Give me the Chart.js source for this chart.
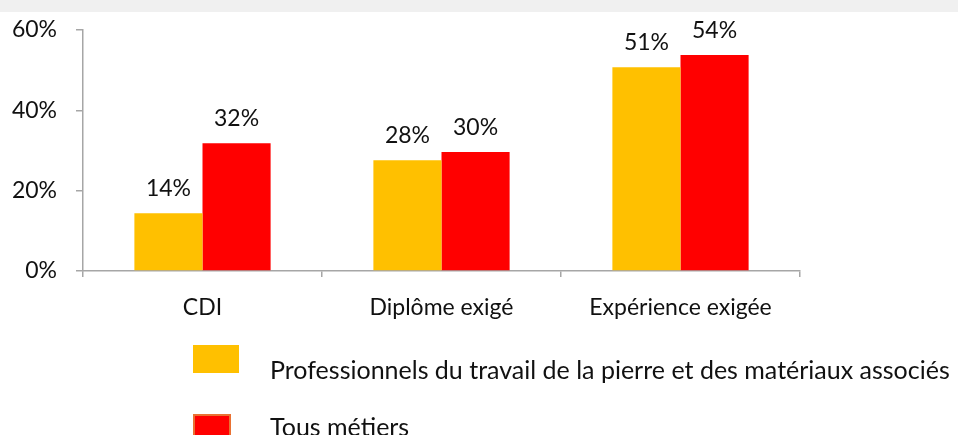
<!DOCTYPE html>
<html>
<head>
<meta charset="utf-8">
<script src="https://cdn.jsdelivr.net/npm/chart.js@4/dist/chart.umd.min.js"></script>
<style>
  html, body { margin: 0; padding: 0; background: #fff; }
  #wrap { position: relative; width: 958px; height: 435px; overflow: hidden; }
  #band { position: absolute; left: 0; top: 0; width: 958px; height: 12px; background: #f0f0f0; }
  #chart { position: absolute; left: 0; top: 0; }
  .legend-item { position: absolute; left: 193px; font-family: Lato, sans-serif; font-size: 25px; color: #111; white-space: nowrap; }
  .legend-item .swatch { position: absolute; left: 0; box-sizing: border-box; }
  .legend-item .txt { position: absolute; left: 77px; }
</style>
</head>
<body>
<div id="wrap">
  <div id="band"></div>
  <canvas id="chart" width="958" height="435"></canvas>
  <div id="legend"></div>
</div>
<script>
const categories = ['CDI', 'Diplôme exigé', 'Expérience exigée'];
const seriesNames = ['Professionnels du travail de la pierre et des matériaux associés', 'Tous métiers'];
const proValues = [14.4, 27.6, 50.7];
const allValues = [31.8, 29.6, 53.8];
const yTicks = [0, 20, 40, 60];
const colors = ['#FFC000', '#FF0000'];

const valueLabels = {
    id: 'valueLabels',
    afterDatasetsDraw(chart) {
        const c = chart.ctx;
        c.save();
        c.font = '23px Lato, sans-serif';
        c.fillStyle = '#111';
        c.textAlign = 'center';
        c.textBaseline = 'alphabetic';
        chart.data.datasets.forEach((ds, i) => {
            chart.getDatasetMeta(i).data.forEach((bar, j) => {
                c.fillText(Math.round(ds.data[j]) + '%', bar.x, bar.y - 17);
            });
        });
        c.restore();
    }
};

const ctx = document.getElementById('chart').getContext('2d');
new Chart(ctx, {
    type: 'bar',
    data: {
        labels: categories,
        datasets: [
            { label: seriesNames[0], data: proValues, backgroundColor: colors[0] },
            { label: seriesNames[1], data: allValues, backgroundColor: colors[1] }
        ]
    },
    options: {
        responsive: false,
        animation: false,
        layout: { padding: { top: 30, right: 158, bottom: 0, left: 0 } },
        datasets: { bar: { barPercentage: 1, categoryPercentage: 0.57 } },
        plugins: { legend: { display: false }, tooltip: { enabled: false } },
        scales: {
            x: {
                afterFit: scale => { scale.height = 164; },
                border: { color: '#a6a6a6', width: 1.5 },
                grid: { drawOnChartArea: false, color: '#a6a6a6', tickLength: 6, lineWidth: 1.5 },
                ticks: { color: '#111', font: { family: 'Lato, sans-serif', size: 23 }, padding: 17 }
            },
            y: {
                min: 0,
                max: 60,
                afterFit: scale => {
                    scale.width = 83;
                    scale.paddingTop = 0;
                    scale.paddingBottom = 0;
                },
                afterBuildTicks: scale => { scale.ticks = yTicks.map(v => ({ value: v })); },
                border: { color: '#a6a6a6', width: 1.5 },
                grid: { drawOnChartArea: false, color: '#a6a6a6', tickLength: 7, lineWidth: 1.5 },
                ticks: {
                    color: '#111',
                    font: { family: 'Lato, sans-serif', size: 23 },
                    padding: 19,
                    callback: v => v + '%'
                }
            }
        }
    },
    plugins: [valueLabels]
});

const legendEl = document.getElementById('legend');
const legendTops = [345, 414];
seriesNames.forEach((name, i) => {
    const item = document.createElement('div');
    item.className = 'legend-item';
    item.style.top = legendTops[i] + 'px';
    const sw = document.createElement('div');
    sw.className = 'swatch';
    sw.style.background = colors[i];
    if (i === 0) {
        sw.style.width = '46px';
        sw.style.height = '28px';
        sw.style.top = '0px';
    } else {
        sw.style.width = '38px';
        sw.style.height = '30px';
        sw.style.top = '0px';
        sw.style.border = '2px solid #E97132';
    }
    const txt = document.createElement('div');
    txt.className = 'txt';
    txt.style.top = (i === 0 ? 9 : -3) + 'px';
    txt.textContent = name;
    item.appendChild(sw);
    item.appendChild(txt);
    legendEl.appendChild(item);
});
</script>
</body>
</html>
